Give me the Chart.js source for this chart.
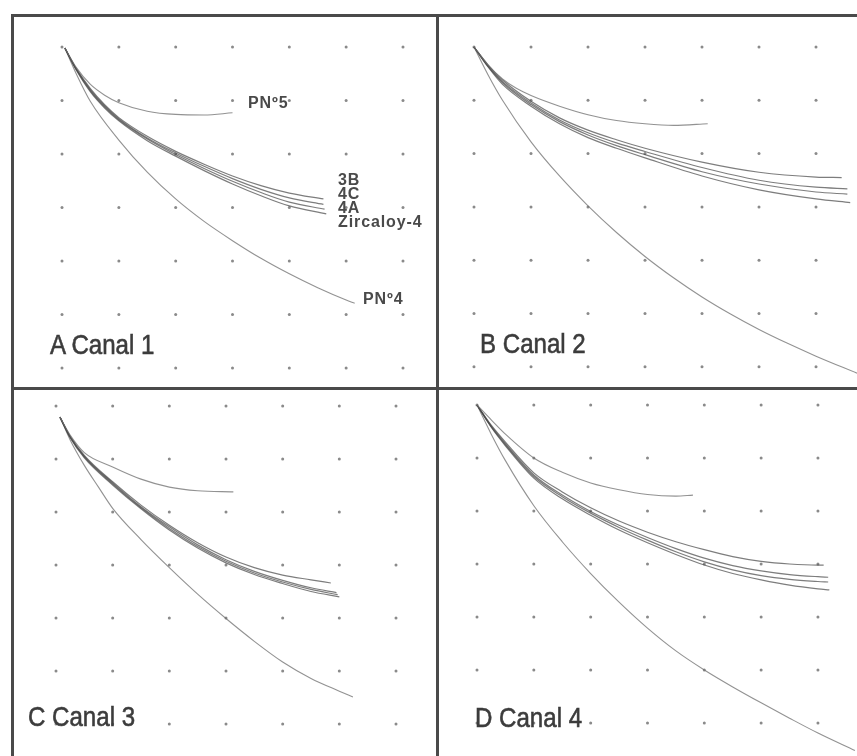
<!DOCTYPE html>
<html>
<head>
<meta charset="utf-8">
<script src="https://cdn.jsdelivr.net/npm/chart.js@4.4.1/dist/chart.umd.min.js"></script>
<style>
  html, body { margin: 0; padding: 0; background: #fff; }
  body { width: 857px; height: 756px; position: relative; overflow: hidden; }
  .rule { position: absolute; background: #4a4a4a; }
  canvas { position: absolute; }
  .title { position: absolute; font-family: "Liberation Sans", Arial, sans-serif; font-size: 28px; line-height: 28px;
           color: #3c3c3c; white-space: nowrap; transform: scaleX(0.86); transform-origin: left top;
           -webkit-text-stroke: 0.6px #3c3c3c; }
  .lab { position: absolute; font-family: "Liberation Sans", Arial, sans-serif; font-size: 16px; line-height: 15px;
         font-weight: bold; letter-spacing: 0.9px; color: #4a4a4a; white-space: nowrap; }
</style>
</head>
<body>
<div class="rule" style="left:11px;top:14px;width:846px;height:3px"></div>
<div class="rule" style="left:11px;top:14px;width:3px;height:742px"></div>
<div class="rule" style="left:436px;top:14px;width:3px;height:742px"></div>
<div class="rule" style="left:11px;top:387px;width:846px;height:3px"></div>

<canvas id="cA" width="422" height="370" style="left:14px;top:17px"></canvas>
<canvas id="cB" width="418" height="370" style="left:439px;top:17px"></canvas>
<canvas id="cC" width="422" height="366" style="left:14px;top:390px"></canvas>
<canvas id="cD" width="418" height="366" style="left:439px;top:390px"></canvas>

<div class="title" style="left:50px;top:331px">A Canal 1</div>
<div class="title" style="left:480px;top:330px">B Canal 2</div>
<div class="title" style="left:28px;top:703px">C Canal 3</div>
<div class="title" style="left:475px;top:704px">D Canal 4</div>

<div class="lab" style="left:248px;top:95px">PNº5</div>
<div class="lab" style="left:338px;top:172px">3B</div>
<div class="lab" style="left:338px;top:186px">4C</div>
<div class="lab" style="left:338px;top:200px">4A</div>
<div class="lab" style="left:338px;top:214px">Zircaloy-4</div>
<div class="lab" style="left:363px;top:291px">PNº4</div>

<script>
// ---- labels ----
const PANEL_TITLES = ['A Canal 1', 'B Canal 2', 'C Canal 3', 'D Canal 4'];
const SERIES = ['PNº5', '3B', '4C', '4A', 'Zircaloy-4', 'PNº4'];
const GRID_TICKS = [0, 1, 2, 3, 4, 5, 6];

// ---- Panel A (Canal 1) : [x, y] ----
const A_PN5 = [[0.05,5.98],[0.25,5.62],[0.5,5.3],[0.75,5.1],[1,4.96],[1.5,4.8],[2,4.74],[2.5,4.73],[3,4.77]];
const A_3B  = [[0.05,5.98],[0.25,5.6],[0.5,5.22],[0.75,4.92],[1,4.68],[1.5,4.33],[2,4.05],[2.5,3.81],[3,3.59],[3.5,3.41],[4,3.27],[4.6,3.16]];
const A_4C  = [[0.05,5.98],[0.25,5.59],[0.5,5.2],[0.75,4.9],[1,4.66],[1.5,4.3],[2,4.02],[2.5,3.77],[3,3.54],[3.5,3.34],[4,3.18],[4.6,3.06]];
const A_4A  = [[0.05,5.98],[0.25,5.58],[0.5,5.18],[0.75,4.88],[1,4.64],[1.5,4.28],[2,3.99],[2.5,3.73],[3,3.49],[3.5,3.28],[4,3.1],[4.62,2.97]];
const A_ZR  = [[0.05,5.98],[0.25,5.57],[0.5,5.16],[0.75,4.86],[1,4.62],[1.5,4.25],[2,3.96],[2.5,3.69],[3,3.44],[3.5,3.22],[4,3.03],[4.65,2.88]];
const A_PN4 = [[0.05,5.98],[0.25,5.5],[0.5,4.98],[1,4.26],[1.5,3.66],[2,3.16],[2.5,2.74],[3,2.38],[3.5,2.05],[4,1.76],[4.5,1.5],[5,1.27],[5.15,1.21]];

// ---- Panel B (Canal 2) ----
const B_PN5 = [[0,6],[0.25,5.66],[0.5,5.4],[0.75,5.22],[1,5.09],[1.5,4.89],[2,4.73],[2.5,4.62],[3,4.56],[3.5,4.53],[4.1,4.56]];
const B_3B  = [[0,6],[0.25,5.66],[0.5,5.38],[1,4.98],[1.5,4.67],[2,4.44],[2.5,4.26],[3,4.1],[4,3.84],[5,3.65],[6,3.56],[6.45,3.55]];
const B_4C  = [[0,6],[0.25,5.64],[0.5,5.35],[1,4.95],[1.5,4.63],[2,4.39],[2.5,4.2],[3,4.04],[4,3.74],[5,3.5],[6,3.37],[6.55,3.34]];
const B_4A  = [[0,6],[0.25,5.63],[0.5,5.33],[1,4.92],[1.5,4.6],[2,4.35],[2.5,4.15],[3,3.98],[4,3.66],[5,3.43],[6,3.28],[6.55,3.24]];
const B_ZR  = [[0,6],[0.25,5.62],[0.5,5.3],[1,4.89],[1.5,4.56],[2,4.3],[2.5,4.1],[3,3.92],[4,3.58],[5,3.32],[6,3.15],[6.6,3.08]];
const B_PN4 = [[0,6],[0.25,5.47],[0.5,5.0],[1,4.22],[1.5,3.58],[2,3.02],[2.5,2.52],[3,2.07],[3.5,1.67],[4,1.31],[4.5,0.99],[5,0.7],[5.5,0.44],[6,0.2],[6.72,-0.12]];

// ---- Panel C (Canal 3) ----
const C_PN5 = [[0.07,5.79],[0.25,5.45],[0.5,5.12],[1,4.85],[1.5,4.62],[2,4.47],[2.5,4.4],[3.13,4.38]];
const C_3B  = [[0.07,5.79],[0.25,5.43],[0.5,5.07],[1,4.57],[1.5,4.13],[2,3.75],[2.5,3.42],[3,3.15],[3.5,2.95],[4,2.81],[4.5,2.72],[4.85,2.66]];
const C_4C  = [[0.07,5.79],[0.25,5.42],[0.5,5.05],[1,4.55],[1.5,4.1],[2,3.72],[2.5,3.38],[3,3.1],[3.5,2.88],[4,2.71],[4.5,2.57],[4.95,2.48]];
const C_4A  = [[0.07,5.79],[0.25,5.41],[0.5,5.04],[1,4.53],[1.5,4.08],[2,3.69],[2.5,3.35],[3,3.07],[3.5,2.85],[4,2.68],[4.5,2.54],[4.97,2.44]];
const C_ZR  = [[0.07,5.79],[0.25,5.4],[0.5,5.02],[1,4.51],[1.5,4.06],[2,3.66],[2.5,3.32],[3,3.04],[3.5,2.82],[4,2.65],[4.5,2.5],[5.0,2.4]];
const C_PN4 = [[0.07,5.79],[0.25,5.36],[0.5,4.88],[0.75,4.47],[1,4.07],[1.5,3.48],[2,2.95],[2.5,2.45],[3,1.99],[3.5,1.56],[4,1.17],[4.5,0.86],[5,0.62],[5.24,0.51]];

// ---- Panel D (Canal 4) ----
const D_PN5 = [[0,6],[0.25,5.72],[0.5,5.45],[1,5.0],[1.5,4.73],[2,4.53],[2.5,4.4],[3,4.31],[3.5,4.28],[3.8,4.3]];
const D_3B  = [[0,6],[0.25,5.62],[0.5,5.3],[1,4.72],[1.5,4.36],[2,4.06],[2.5,3.81],[3,3.6],[3.5,3.42],[4,3.27],[4.5,3.14],[5,3.05],[5.5,3.0],[6,2.98],[6.1,2.98]];
const D_4C  = [[0,6],[0.25,5.6],[0.5,5.27],[1,4.68],[1.5,4.3],[2,3.99],[2.5,3.73],[3,3.5],[3.5,3.29],[4,3.11],[4.5,2.97],[5,2.87],[5.5,2.8],[6,2.76],[6.18,2.75]];
const D_4A  = [[0,6],[0.25,5.59],[0.5,5.25],[1,4.65],[1.5,4.27],[2,3.96],[2.5,3.69],[3,3.45],[3.5,3.23],[4,3.04],[4.5,2.89],[5,2.78],[5.5,2.71],[6,2.67],[6.18,2.66]];
const D_ZR  = [[0,6],[0.25,5.58],[0.5,5.23],[1,4.62],[1.5,4.23],[2,3.92],[2.5,3.64],[3,3.4],[3.5,3.18],[4,2.98],[4.5,2.82],[5,2.7],[5.5,2.6],[6,2.53],[6.2,2.51]];
const D_PN4 = [[0,6],[0.25,5.45],[0.5,4.95],[1,4.1],[1.5,3.42],[2,2.82],[2.5,2.28],[3,1.79],[3.5,1.36],[4,1.0],[4.5,0.68],[5,0.38],[5.5,0.09],[6,-0.19],[6.65,-0.52]];

const PANELS = [
  { id: 'cA', title: PANEL_TITLES[0], series: [A_PN5, A_3B, A_4C, A_4A, A_ZR, A_PN4], x: [-0.845, 6.581], y: [-0.355, 6.561] },
  { id: 'cB', title: PANEL_TITLES[1], series: [B_PN5, B_3B, B_4C, B_4A, B_ZR, B_PN4], x: [-0.614, 6.719], y: [-0.379, 6.563] },
  { id: 'cC', title: PANEL_TITLES[2], series: [C_PN5, C_3B, C_4C, C_4A, C_ZR, C_PN4], x: [-0.741, 6.706], y: [-0.604, 6.302] },
  { id: 'cD', title: PANEL_TITLES[3], series: [D_PN5, D_3B, D_4C, D_4A, D_ZR, D_PN4], x: [-0.669, 6.687], y: [-0.623, 6.283] }
];

const STYLE = [
  { c: 'rgba(110,110,110,0.75)', w: 1.1 },
  { c: 'rgba(70,70,70,0.7)', w: 1.2 },
  { c: 'rgba(70,70,70,0.7)', w: 1.2 },
  { c: 'rgba(70,70,70,0.7)', w: 1.2 },
  { c: 'rgba(70,70,70,0.7)', w: 1.2 },
  { c: 'rgba(110,110,110,0.75)', w: 1.1 }
];

const dotGrid = {
  id: 'dotGrid',
  beforeDatasetsDraw(chart) {
    const ctx = chart.ctx, xs = chart.scales.x, ys = chart.scales.y;
    ctx.save();
    ctx.fillStyle = '#8a8a8a';
    GRID_TICKS.forEach(gx => GRID_TICKS.forEach(gy => {
      ctx.beginPath();
      ctx.arc(xs.getPixelForValue(gx), ys.getPixelForValue(gy), 1.5, 0, Math.PI * 2);
      ctx.fill();
    }));
    ctx.restore();
  }
};

PANELS.forEach(p => {
  new Chart(document.getElementById(p.id), {
    type: 'line',
    data: {
      datasets: p.series.map((s, i) => ({
        label: SERIES[i],
        data: s.map(([x, y]) => ({ x, y })),
        borderColor: STYLE[i].c,
        borderWidth: STYLE[i].w,
        pointRadius: 0,
        fill: false,
        cubicInterpolationMode: 'monotone'
      }))
    },
    options: {
      responsive: false,
      animation: false,
      devicePixelRatio: 1,
      layout: { padding: 0 },
      plugins: { legend: { display: false }, tooltip: { enabled: false }, title: { display: false } },
      scales: {
        x: { type: 'linear', min: p.x[0], max: p.x[1], display: false },
        y: { type: 'linear', min: p.y[0], max: p.y[1], display: false }
      }
    },
    plugins: [dotGrid]
  });
});
</script>
</body>
</html>
